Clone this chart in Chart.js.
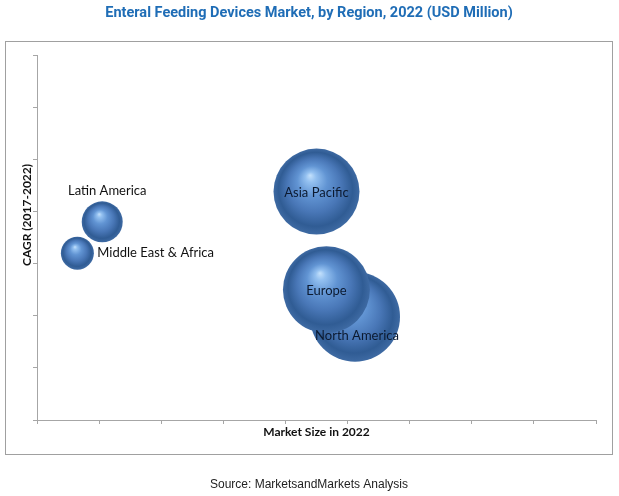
<!DOCTYPE html>
<html>
<head>
<meta charset="utf-8">
<script src="https://cdn.jsdelivr.net/npm/chart.js@4.4.1/dist/chart.umd.min.js"></script>
<style>
  html, body { margin: 0; padding: 0; background: #ffffff; }
  #wrap { width: 619px; height: 496px; position: relative; }
</style>
</head>
<body>
<div id="wrap"><canvas id="c" width="619" height="496"></canvas></div>
<script>
// ---- Data ----
const regions = ['Latin America', 'Middle East & Africa', 'Asia Pacific', 'North America', 'Europe'];
const marketSize = [1.05, 0.65, 4.50, 5.12, 4.66];   // x: Market Size in 2022 (axis units 0-9)
const cagr = [3.80, 3.20, 4.38, 1.98, 2.50];         // y: CAGR 2017-2022 (axis units 0-7)
const bubbleRadius = [20.5, 16.5, 43, 45, 43.5];     // bubble radius (px)
const xTicks = [0, 1, 2, 3, 4, 5, 6, 7, 8, 9];
const yTicks = [0, 1, 2, 3, 4, 5, 6, 7];

const titleText = 'Enteral Feeding Devices Market, by Region, 2022 (USD Million)';
const xTitle = 'Market Size in 2022';
const yTitle = 'CAGR (2017-2022)';
const sourceText = 'Source: MarketsandMarkets Analysis';

// label placement relative to bubble centre (style, not data)
const labelStyle = {
  'Latin America':        { dx: 5,  dy: -31, align: 'center', color: '#111111' },
  'Middle East & Africa': { dx: 20, dy: 0,   align: 'left',   color: '#111111' },
  'Asia Pacific':         { dx: 0,  dy: 1,   align: 'center', color: '#0c1a30' },
  'North America':        { dx: 2,  dy: 19,  align: 'center', color: '#0c1a30' },
  'Europe':               { dx: 0,  dy: 1,   align: 'center', color: '#0c1a30' }
};

const points = regions.map((r, i) => ({ x: marketSize[i], y: cagr[i], r: bubbleRadius[i], label: r }));

function sphereFill(ctx) {
  const chart = ctx.chart;
  const raw = ctx.raw;
  if (!raw || !chart.scales || !chart.scales.x || !chart.scales.y) return '#4a7cbe';
  const cx = chart.scales.x.getPixelForValue(raw.x);
  const cy = chart.scales.y.getPixelForValue(raw.y);
  const r = raw.r;
  if (!isFinite(cx) || !isFinite(cy) || !isFinite(r)) return '#4a7cbe';
  const g = chart.ctx.createRadialGradient(cx - 0.15 * r, cy - 0.38 * r, 0, cx, cy, r);
  g.addColorStop(0, '#c4e1fc');
  g.addColorStop(0.12, '#93c0f0');
  g.addColorStop(0.35, '#6194d3');
  g.addColorStop(0.62, '#4977b7');
  g.addColorStop(0.86, '#305c94');
  g.addColorStop(1, '#3e6aa3');
  return g;
}

const decor = {
  id: 'decor',
  beforeDraw(chart) {
    const c = chart.ctx;
    c.save();
    c.fillStyle = '#ffffff';
    c.fillRect(0, 0, chart.width, chart.height);
    c.strokeStyle = '#a0a0a0';
    c.lineWidth = 1;
    c.strokeRect(5.5, 41.5, 607, 413);
    c.restore();
  },
  afterDatasetsDraw(chart) {
    const c = chart.ctx;
    const meta = chart.getDatasetMeta(0);
    c.save();
    c.font = '13px Lato, "DejaVu Sans", sans-serif';
    c.textBaseline = 'middle';
    meta.data.forEach((el, i) => {
      const st = labelStyle[regions[i]];
      c.fillStyle = st.color;
      c.textAlign = st.align;
      c.fillText(regions[i], el.x + st.dx, el.y + st.dy);
    });
    c.restore();
  },
  afterDraw(chart) {
    const c = chart.ctx;
    const area = chart.chartArea;
    c.save();
    // title
    c.font = 'bold 14.5px Roboto, "Liberation Sans", sans-serif';
    c.fillStyle = '#1f6db6';
    c.textAlign = 'center';
    c.textBaseline = 'middle';
    c.fillText(titleText, 309, 13);
    // axis titles
    c.font = 'bold 12px Lato, "DejaVu Sans", sans-serif';
    c.fillStyle = '#111111';
    c.fillText(xTitle, (area.left + area.right) / 2, 432);
    c.save();
    c.translate(27, 215);
    c.rotate(-Math.PI / 2);
    c.fillText(yTitle, 0, 0);
    c.restore();
    // source
    c.font = '12px "Liberation Sans", Arial, sans-serif';
    c.fillStyle = '#222222';
    c.fillText(sourceText, 309, 485);
    c.restore();
  }
};

new Chart(document.getElementById('c'), {
  type: 'bubble',
  data: {
    datasets: [{
      data: points,
      backgroundColor: sphereFill,
      borderWidth: 0,
      hoverBorderWidth: 0,
      hoverRadius: 0
    }]
  },
  options: {
    responsive: false,
    animation: false,
    events: [],
    layout: { autoPadding: false, padding: { left: 33, right: 23, top: 55, bottom: 72 } },
    plugins: {
      legend: { display: false },
      title: { display: false },
      tooltip: { enabled: false }
    },
    scales: {
      x: {
        type: 'linear',
        min: xTicks[0],
        max: xTicks[xTicks.length - 1],
        afterBuildTicks: (s) => { s.ticks = xTicks.map(v => ({ value: v })); },
        ticks: { display: false },
        grid: { drawOnChartArea: false, drawTicks: true, tickLength: 4, tickColor: '#a6a6a6', lineWidth: 1 },
        border: { display: true, color: '#a6a6a6', width: 1 },
        title: { display: false }
      },
      y: {
        type: 'linear',
        min: yTicks[0],
        max: yTicks[yTicks.length - 1],
        afterBuildTicks: (s) => { s.ticks = yTicks.map(v => ({ value: v })); },
        ticks: { display: false },
        grid: { drawOnChartArea: false, drawTicks: true, tickLength: 4, tickColor: '#a6a6a6', lineWidth: 1 },
        border: { display: true, color: '#a6a6a6', width: 1 },
        title: { display: false }
      }
    }
  },
  plugins: [decor]
});
</script>
</body>
</html>
